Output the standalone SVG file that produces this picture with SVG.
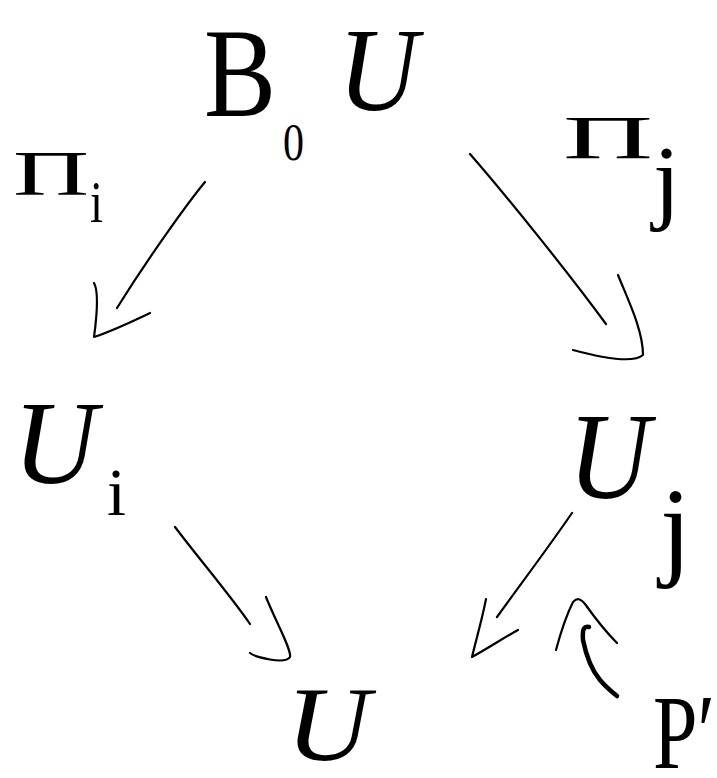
<svg xmlns="http://www.w3.org/2000/svg" width="717" height="778" viewBox="0 0 717 778">
<style>
.t{font-family:"Liberation Serif","DejaVu Serif",serif;fill:#000;}
.u{font-style:italic;}
.c{fill:none;stroke:#000;stroke-width:2.2;stroke-linecap:round;stroke-linejoin:round;}
.thick{stroke-width:4.5;}
</style>
<rect width="717" height="778" fill="#fff"/>
<g id="node-B0U">
<text class="t" x="204" y="116" font-size="128" textLength="72" lengthAdjust="spacingAndGlyphs">B</text>
<text class="t" x="283" y="160" font-size="52" textLength="21" lengthAdjust="spacingAndGlyphs">0</text>
<text class="t u" x="338" y="110" font-size="118" textLength="80" lengthAdjust="spacingAndGlyphs">U</text>
</g>
<g id="node-Pi-i">
<text class="t" x="13" y="195" font-size="64" textLength="76" lengthAdjust="spacingAndGlyphs">Π</text>
<text class="t" x="90" y="222" font-size="60" textLength="13" lengthAdjust="spacingAndGlyphs">i</text>
</g>
<g id="node-Pi-j">
<text class="t" x="563" y="158" font-size="62" textLength="90" lengthAdjust="spacingAndGlyphs">Π</text>
<text class="t" x="653" y="212" font-size="96" textLength="27" lengthAdjust="spacingAndGlyphs">j</text>
</g>
<g id="node-U-i">
<text class="t u" x="13" y="483" font-size="118" textLength="84" lengthAdjust="spacingAndGlyphs">U</text>
<text class="t" x="107" y="515" font-size="68" textLength="19" lengthAdjust="spacingAndGlyphs">i</text>
</g>
<g id="node-U-j">
<text class="t u" x="568" y="498" font-size="122" textLength="82" lengthAdjust="spacingAndGlyphs">U</text>
<text class="t" x="660" y="565" font-size="112" textLength="31" lengthAdjust="spacingAndGlyphs">j</text>
</g>
<g id="node-U">
<text class="t u" x="286" y="760" font-size="106" textLength="84" lengthAdjust="spacingAndGlyphs">U</text>
</g>
<g id="node-P-prime">
<text class="t" x="653" y="768" font-size="106" textLength="62" lengthAdjust="spacingAndGlyphs">P′</text>
</g>
<g id="connectors">
<path class="c" d="M205,182 C190,200 150,255 117,308"/>
<path class="c" d="M94,283 C99,292 97,315 94,337 C115,330 135,320 150,313"/>
<path class="c" d="M470,154 C510,200 570,275 606,324"/>
<path class="c" d="M618,275 C628,300 643,330 643,355 C635,362 610,360 573,350"/>
<path class="c" d="M175,527 C200,560 230,595 250,624"/>
<path class="c" d="M266,597 C275,620 292,650 290,657 C285,665 255,657 250,653"/>
<path class="c" d="M572,513 C548,548 520,585 497,617"/>
<path class="c" d="M486,599 C482,620 476,640 472,657 C490,647 505,637 518,630"/>
<path class="c" d="M556,650 C560,635 565,618 573,602 C577,598 580,598 585,604 C595,618 607,633 617,643"/>
<path class="c thick" d="M589,627 C585,626 582,627 583,640 C586,655 590,668 600,680 C605,686 612,692 617,696"/>
</g>
</svg>
